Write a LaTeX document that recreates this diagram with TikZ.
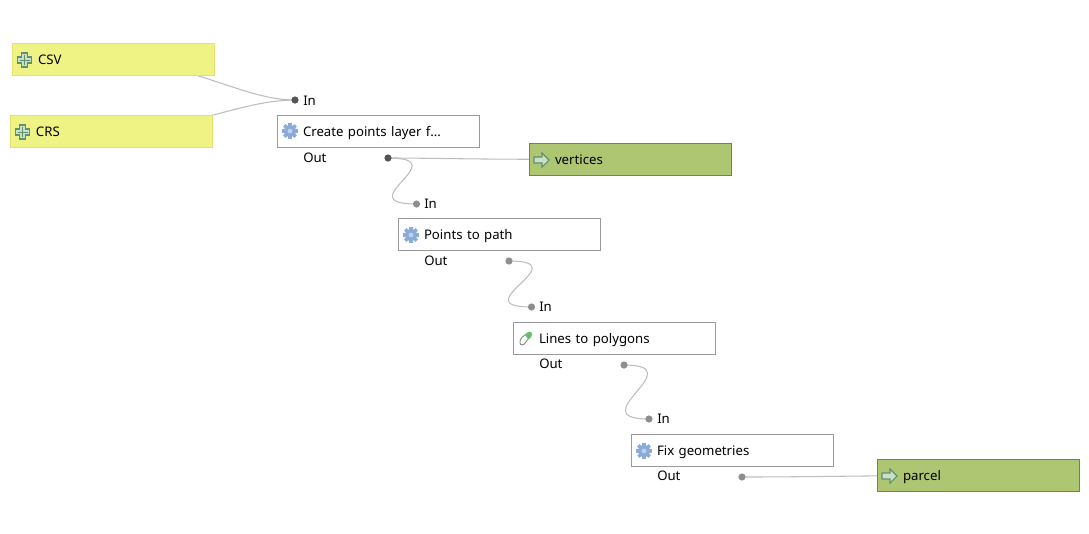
\documentclass[tikz,border=0pt]{standalone}
\usepackage{fontspec}
\setmainfont{Noto Sans}
\usetikzlibrary{backgrounds,calc}
\definecolor{yfill}{HTML}{EFF384}
\definecolor{yline}{HTML}{E6E070}
\definecolor{gfill}{HTML}{AEC572}
\definecolor{gline}{HTML}{648A54}
\definecolor{bline}{HTML}{9A9A9A}
\definecolor{wire}{HTML}{BDBDBD}
\definecolor{gearc}{HTML}{8AAAD8}
\definecolor{iconl}{HTML}{5F9070}
\definecolor{iconf}{HTML}{C9DFC8}
\definecolor{portgray}{HTML}{8E8E8E}
\definecolor{portdark}{HTML}{555555}
\tikzset{
  x=0.75pt,y=-0.75pt,
  every node/.style={font=\fontsize{9.9pt}{11pt}\selectfont},
  block/.style={draw,rectangle,anchor=north west,line width=0.75pt,minimum width=151.5pt,minimum height=24pt,
    inner xsep=19.5pt,inner ysep=0pt,text width=112.5pt,align=left,text height=8.6pt,text depth=1pt},
  modelin/.style={block,fill=yfill,draw=yline},
  algo/.style={block,fill=white,draw=bline},
  modelout/.style={block,fill=gfill,draw=gline},
  port/.style={circle,draw=none,fill=#1,minimum size=5.4pt,inner sep=0pt},
  port/.default={portgray},
  plab/.style={anchor=west,inner sep=0pt},
  wireline/.style={draw=wire,line width=0.8pt},
}
\newcommand{\plusicon}[1]{%
  \draw[iconl,fill=iconf,line width=0.8pt,shift={(#1)}]
    (-3,-7)--(3,-7)--(3,-3)--(7,-3)--(7,3)--(3,3)--(3,7)--(-3,7)--(-3,3)--(-7,3)--(-7,-3)--(-3,-3)--cycle;
  \draw[iconl,line width=0.6pt,shift={(#1)}] (-5,0)--(5,0) (0,-5)--(0,5);}
\newcommand{\gearicon}[1]{%
  \begin{scope}[shift={(#1)}]
  \foreach \a in {0,45,...,315}{\draw[gearc,line width=2.4pt] (0,0)--(\a:8);}
  \fill[gearc] (0,0) circle (6);
  \fill[gearc!55!white] (0,0) circle (2.4);
  \end{scope}}
\newcommand{\arrowicon}[1]{%
  \draw[iconl,fill=iconf,line width=0.8pt,shift={(#1)}]
    (-7,-3)--(1,-3)--(1,-7)--(8,0)--(1,7)--(1,3)--(-7,3)--cycle;}
\newcommand{\polyicon}[1]{%
  \begin{scope}[shift={(#1)}]
  \draw[gray,fill=white,line width=0.6pt] (-6,5) .. controls (-7,1) and (-2,-3) .. (1,-4) -- (3,0) .. controls (0,3) and (-1,7) .. (-4,7) .. controls (-5,7) and (-6,6) .. (-6,5) -- cycle;
  \fill[green!40!gray!85] (-1,-3) .. controls (1,-7) and (6,-7) .. (6,-4) .. controls (6,-1) and (3,2) .. (2,1) -- cycle;
  \end{scope}}
\newcommand{\scurve}[2]{\draw[wireline] (#1) .. controls ($(#1)+(70,0)$) and ($(#2)+(-70,0)$) .. (#2);}
\begin{document}
\begin{tikzpicture}
\useasboundingbox (0,0) rectangle (1089,533);
% blocks
\node[modelin] (csv) at (11.5,42.5) {CSV};
\node[modelin] (crs) at (9.5,114.5) {CRS};
\node[algo] (create) at (276.5,114.5) {Create points layer f...};
\node[modelout] (vertices) at (528.5,142.5) {vertices};
\node[algo] (points) at (397.5,217.5) {Points to path};
\node[algo] (lines) at (512.5,321.5) {Lines to polygons};
\node[algo] (fix) at (630.5,433.5) {Fix geometries};
\node[modelout] (parcel) at (876.5,458.5) {parcel};
% ports
\node[port=portdark] (createin) at (295,100) {};
\node[port=portdark] (createout) at (388,158) {};
\node[port] (pointsin) at (416.5,204) {};
\node[port] (pointsout) at (509,261) {};
\node[port] (linesin) at (531.5,307) {};
\node[port] (linesout) at (624,365) {};
\node[port] (fixin) at (649,419) {};
\node[port] (fixout) at (742,477) {};
% port labels
\node[plab] (l1) at (303,101) {In};
\node[plab] (l2) at (303,158) {Out};
\node[plab] (l3) at (424,204) {In};
\node[plab] (l4) at (424,261) {Out};
\node[plab] (l5) at (539,307) {In};
\node[plab] (l6) at (539,364) {Out};
\node[plab] (l7) at (657,419) {In};
\node[plab] (l8) at (657,476) {Out};
% connectors
\begin{scope}[on background layer]
\draw[wireline] (csv.center) .. controls (200,66) and (245,100) .. (createin.center);
\draw[wireline] (crs.center) .. controls (185,132) and (240,100) .. (createin.center);
\draw[wireline] (createout.center) .. controls (440,158) and (480,160) .. (vertices.center);
\scurve{createout.center}{pointsin.center}
\scurve{pointsout.center}{linesin.center}
\scurve{linesout.center}{fixin.center}
\draw[wireline] (fixout.center) .. controls (800,477) and (840,476) .. (parcel.center);
\end{scope}
% icons
\plusicon{24.5,60}
\plusicon{22.5,132}
\gearicon{290,131}
\arrowicon{541,160}
\gearicon{411,235}
\polyicon{526,338}
\gearicon{644,451}
\arrowicon{889,476}
\end{tikzpicture}
\end{document}
